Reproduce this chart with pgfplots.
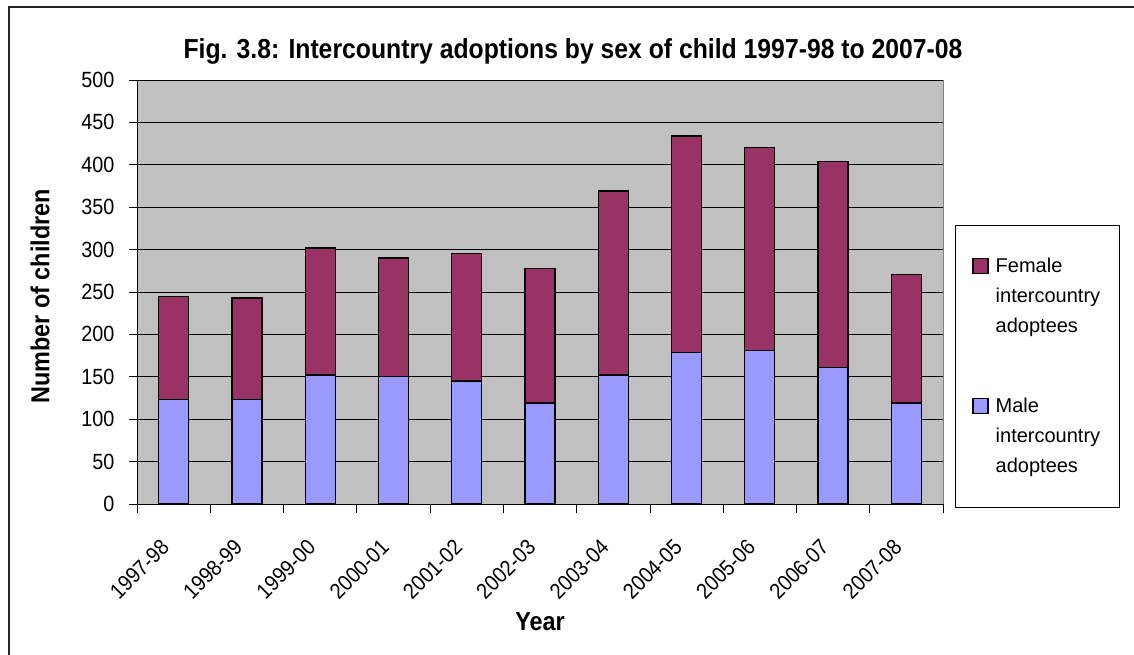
\documentclass[border=0pt]{standalone}
\usepackage{fontspec}
\setmainfont{Liberation Sans}[FakeStretch=0.9]
\newfontfamily\legendfont{Liberation Sans}
\usepackage{pgfplots}
\pgfplotsset{compat=1.18}
\definecolor{female}{RGB}{153,51,102}
\definecolor{male}{RGB}{153,153,255}
\definecolor{plotbg}{RGB}{192,192,192}
\pgfplotsset{sqlegend/.style={legend image code/.code={\draw[##1, line width=1.3pt] (0pt,23pt) rectangle (15pt,38pt);}}}
\begin{document}
\begin{tikzpicture}
\path[use as bounding box] (0pt,0pt) rectangle (1134pt,-655pt);
\draw[line width=1.2pt, black!85] (9pt,-665pt) -- (9pt,-7pt) -- (1140pt,-7pt);
\node[anchor=base, font=\fontsize{27.5}{32}\selectfont\bfseries] at (573pt,-59pt) {Fig. 3.8: Intercountry adoptions by sex of child 1997-98 to 2007-08};
\begin{axis}[
  at={(137pt,-504pt)}, anchor=south west,
  scale only axis, width=806pt, height=424pt,
  ybar stacked, bar width=30pt,
  xmin=-0.5, xmax=10.5, ymin=0, ymax=500,
  axis x line*=bottom, axis y line*=left,
  axis line style={black, line width=1pt},
  axis background/.style={fill=plotbg, draw=gray, line width=1pt},
  ymajorgrids, major grid style={black, line width=0.8pt},
  tick align=outside, major tick length=8.5pt,
  tick style={black, line width=0.8pt},
  ytick={0,50,...,500},
  /pgf/number format/assume math mode=true,
  yticklabel style={font=\fontsize{22}{26}\selectfont, inner sep=0pt, anchor=east, xshift=-14pt},
  xtick={-0.5,0.5,...,10.5},
  xticklabels={},
  extra x ticks={0,1,2,3,4,5,6,7,8,9,10},
  extra x tick labels={1997-98,1998-99,1999-00,2000-01,2001-02,2002-03,2003-04,2004-05,2005-06,2006-07,2007-08},
  extra x tick style={major tick length=0pt, grid=none,
    tick label style={font=\fontsize{22}{26}\selectfont, inner sep=0pt, xshift=-14pt, yshift=-34pt, rotate=45, anchor=north east}},
  xlabel={Year}, ylabel={Number of children},
  every axis x label/.style={at={(axis description cs:0.5,-0.278)}, anchor=center, font=\fontsize{26}{30}\selectfont\bfseries},
  every axis y label/.style={at={(axis description cs:-0.1203,0.49)}, rotate=90, anchor=center, font=\fontsize{26}{30}\selectfont\bfseries},
  sqlegend,
  reverse legend,
  legend cell align=left,
  legend style={at={(axis description cs:1.0149,0.658)}, anchor=north west, draw=black, line width=0.8pt, fill=white,
    font=\legendfont\fontsize{20}{30}\selectfont, cells={align=left}, row sep=60pt, column sep=5pt, inner xsep=17pt, inner ysep=31pt},
]
\addplot[fill=male, draw=black, line width=1.3pt]
  coordinates {(0,123) (1,123) (2,152) (3,150) (4,145) (5,119) (6,152) (7,179) (8,181) (9,161) (10,119)};
\addlegendentry{Male\\intercountry\\adoptees}
\addplot[fill=female, draw=black, line width=1.3pt]
  coordinates {(0,122) (1,120) (2,150) (3,140) (4,150) (5,159) (6,217) (7,255) (8,239) (9,243) (10,152)};
\addlegendentry{Female\\intercountry\\adoptees}
\end{axis}
\end{tikzpicture}
\end{document}
